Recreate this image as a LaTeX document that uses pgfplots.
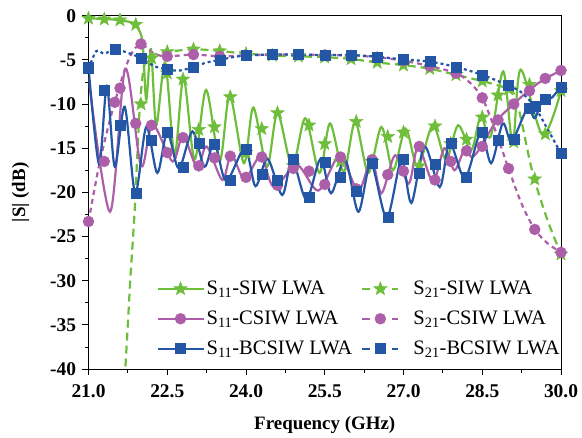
\documentclass[border=0pt]{standalone}
\usepackage{fontspec}
\setmainfont{Liberation Serif}
\usepackage{pgfplots}
\pgfplotsset{compat=1.18}
\usetikzlibrary{calc}
\definecolor{cg}{RGB}{110,190,60}
\definecolor{cp}{RGB}{172,95,168}
\definecolor{cb}{RGB}{36,86,166}
\pgfdeclareplotmark{fstar}{%
  \pgfpathmoveto{\pgfpointpolar{90}{1.3\pgfplotmarksize}}%
  \pgfpathlineto{\pgfpointpolar{126}{0.55\pgfplotmarksize}}%
  \pgfpathlineto{\pgfpointpolar{162}{1.3\pgfplotmarksize}}%
  \pgfpathlineto{\pgfpointpolar{198}{0.55\pgfplotmarksize}}%
  \pgfpathlineto{\pgfpointpolar{234}{1.3\pgfplotmarksize}}%
  \pgfpathlineto{\pgfpointpolar{270}{0.55\pgfplotmarksize}}%
  \pgfpathlineto{\pgfpointpolar{306}{1.3\pgfplotmarksize}}%
  \pgfpathlineto{\pgfpointpolar{342}{0.55\pgfplotmarksize}}%
  \pgfpathlineto{\pgfpointpolar{18}{1.3\pgfplotmarksize}}%
  \pgfpathlineto{\pgfpointpolar{54}{0.55\pgfplotmarksize}}%
  \pgfpathclose
  \pgfusepathqfillstroke
}
\pgfplotsset{
  longleg/.style={legend image code/.code={\draw[mark repeat=2,mark phase=2,##1] plot coordinates {(0bp,0bp) (23bp,0bp) (46bp,0bp)};}},
  shortleg/.style={legend image code/.code={\path (0bp,0bp) (48bp,0bp); \draw[mark repeat=2,mark phase=2,##1] plot coordinates {(0bp,0bp) (18bp,0bp) (36bp,0bp)};}},
}
\begin{document}
\fontsize{19}{22}\selectfont
\begin{tikzpicture}
\begin{axis}[
  scale only axis, width=472.5bp, height=353.3bp,
  xmin=21, xmax=30, ymin=-40, ymax=0,
  xtick={21,22.5,24,25.5,27,28.5,30},
  xticklabels={21.0,22.5,24.0,25.5,27.0,28.5,30.0},
  ytick={-40,-35,-30,-25,-20,-15,-10,-5,0},
  yticklabels={-40,-35,-30,-25,-20,-15,-10,-5,0},
  minor x tick num=1, minor y tick num=1,
  tick pos=left, tick align=outside,
  major tick length=6bp, minor tick length=3.5bp,
  tick style={black, line width=0.8bp},
  axis line style={line width=0.9bp},
  ticklabel style={font=\fontsize{19.5}{22}\selectfont\bfseries},
  xticklabel shift=3bp,
  label style={font=\fontsize{19}{22}\selectfont\bfseries},
  xlabel={Frequency (GHz)}, ylabel={|S| (dB)},
  xlabel shift=6bp, ylabel shift=8bp,
  legend columns=2,
  legend cell align=left,
  legend style={draw=none, fill=none, at={(rel axis cs:0.137,0.262)}, anchor=north west,
    font=\fontsize{20.6}{22}\selectfont, row sep=9.5bp,
    /tikz/every even column/.append style={column sep=7bp}},
  every axis plot/.append style={line width=2.2bp},
]
\coordinate (sw) at (rel axis cs:0,0);
\coordinate (ne) at (rel axis cs:1,1);
% ---------- green S11 (SIW) ----------
\addplot[cg, smooth, forget plot] coordinates {
(21.0,-0.3) (21.5,-0.45) (21.85,-0.8) (21.93,-1.3) (22.03,-3) (22.1,-9.5) (22.19,-3.8) (22.29,-12.4)
(22.46,-5.3) (22.64,-15.8) (22.81,-7.0) (23.02,-16.3) (23.24,-8.4) (23.5,-16.4) (23.69,-9.0)
(23.96,-16.7) (24.14,-10.4) (24.4,-17.1) (24.6,-11.0) (24.88,-17.1) (25.13,-11.6) (25.4,-17.8)
(25.6,-12.2) (25.86,-17.7) (26.08,-12.0) (26.33,-17.8) (26.58,-12.6) (26.8,-17.5) (27.04,-12.8)
(27.27,-17.1) (27.56,-12.4) (27.81,-16.3) (28.04,-12.4) (28.29,-15.2) (28.47,-11.4) (28.66,-13.7)
(28.9,-6.3) (29.08,-14.5) (29.23,-6.1) (29.65,-13.5) (30.0,-8.5)};
% ---------- green S21 ----------
\addplot[cg, smooth, dash pattern=on 8bp off 5bp, forget plot] coordinates {
(21.6,-50) (21.73,-37) (21.8,-29.5) (21.88,-22) (21.97,-11) (22.05,-6) (22.15,-4.7) (22.3,-4.3)
(22.5,-4.1) (23.0,-3.8) (23.5,-4.0) (24.0,-4.3) (24.5,-4.5) (25.0,-4.6) (25.5,-4.7) (26.0,-4.9)
(26.5,-5.3) (27.0,-5.6) (27.5,-6.0) (28.0,-6.7) (28.5,-7.4) (28.8,-7.9) (29.05,-8.4) (29.15,-9.5)
(29.25,-12) (29.46,-17.8) (29.74,-23.1) (30.0,-27)};
% ---------- pink S11 (CSIW) ----------
\addplot[cp, smooth, forget plot] coordinates {
(21.0,-7.0) (21.41,-22.2) (21.7,-6.0) (22.0,-17) (22.22,-12.3) (22.6,-16.5) (22.8,-13.6)
(23.07,-17.2) (23.25,-14.8) (23.55,-18.6) (23.72,-15.7) (23.97,-18.5) (24.28,-15.9) (24.53,-19.4)
(24.97,-16.9) (25.38,-19.8) (25.78,-15.9) (26.14,-19.8) (26.39,-16.2) (26.58,-20.1) (26.84,-15.8)
(27.1,-19.0) (27.28,-14.8) (27.56,-18.8) (27.78,-15.0) (27.97,-17.5) (28.16,-15.2) (28.3,-16.0)
(28.46,-15.0) (28.76,-12.0) (29.08,-10.1) (29.36,-8.6) (29.65,-7.3) (30.0,-6.2)};
% ---------- pink S21 ----------
\addplot[cp, smooth, dash pattern=on 5bp off 4bp, forget plot] coordinates {
(21.0,-23.3) (21.2,-17) (21.4,-12) (21.6,-7.8) (21.8,-4.5) (22.0,-3.2) (22.25,-4.3) (22.5,-4.6)
(23.0,-4.4) (23.5,-4.6) (24.0,-4.5) (24.5,-4.4) (25.0,-4.4) (25.5,-4.45) (26.0,-4.5) (26.5,-4.7)
(27.0,-5.1) (27.5,-5.7) (28.0,-6.5) (28.25,-7.5) (28.5,-9.3) (28.75,-13) (29.0,-17.3)
(29.25,-21.3) (29.5,-24.2) (29.75,-25.8) (30.0,-26.8)};
% ---------- blue S11 (BCSIW) ----------
\addplot[cb, smooth, forget plot] coordinates {
(21.0,-5.8) (21.2,-16.8) (21.35,-8.0) (21.5,-17.1) (21.69,-10.3) (21.89,-20.1) (22.1,-12.6)
(22.31,-17.8) (22.5,-13.2) (22.72,-17.3) (22.98,-13.1) (23.21,-17.1) (23.4,-14.3) (23.62,-18.7)
(23.98,-15.0) (24.18,-19.3) (24.41,-16.2) (24.69,-20.3) (24.88,-16.3) (25.15,-20.8) (25.42,-16.2)
(25.62,-20.1) (25.89,-16.3) (26.14,-22.2) (26.38,-16.7) (26.68,-22.9) (26.96,-16.3) (27.15,-21.2)
(27.4,-14.8) (27.69,-19.4) (27.88,-14.4) (28.17,-18.4) (28.47,-13.2) (28.67,-16.7) (28.89,-12.2)
(29.06,-14.2) (29.36,-10.5) (29.5,-11.6) (29.65,-9.5) (29.82,-9.3) (30.0,-8.0)};
% ---------- blue S21 ----------
\addplot[cb, smooth, dash pattern=on 3bp off 3bp, forget plot] coordinates {
(21.0,-6.0) (21.15,-4.0) (21.3,-4.3) (21.5,-3.8) (21.75,-4.2) (22.0,-4.8) (22.25,-5.7) (22.5,-6.1)
(22.75,-6.2) (23.0,-5.8) (23.25,-5.3) (23.5,-5.0) (23.75,-4.7) (24.0,-4.5) (24.5,-4.4) (25.0,-4.4)
(25.5,-4.45) (26.0,-4.45) (26.5,-4.65) (27.0,-4.95) (27.5,-5.2) (28.0,-5.8) (28.5,-6.7) (29.0,-7.9)
(29.25,-8.7) (29.5,-10.3) (29.75,-12.9) (30.0,-15.6)};
% ---------- markers ----------
\addplot[only marks, mark=fstar, mark size=5.5bp, mark options={fill=cg, draw=cg, line width=0.4bp}, forget plot] coordinates {
(21.0,-0.3) (21.3,-0.4) (21.6,-0.5) (21.9,-1.0) (22.2,-4.8) (22.5,-6.5) (22.8,-7.2) (23.1,-12.9)
(23.4,-12.6) (23.7,-9.2) (24.0,-15.5) (24.3,-12.8) (24.6,-11.0) (24.9,-17.0) (25.2,-12.4)
(25.5,-14.5) (25.8,-16.5) (26.1,-12.0) (26.4,-16.5) (26.7,-13.7) (27.0,-13.2) (27.3,-17.0)
(27.6,-12.5) (27.9,-14.5) (28.2,-14.0) (28.5,-11.5) (28.8,-9.0) (29.1,-14.3) (29.4,-7.8)
(29.7,-13.4) (30.0,-8.5)};
\addplot[only marks, mark=fstar, mark size=5.5bp, mark options={fill=cg, draw=cg, line width=0.4bp}, forget plot] coordinates {
(22.0,-10) (22.5,-4.1) (23.0,-3.8) (23.5,-4.0) (24.0,-4.3) (24.5,-4.5) (25.0,-4.6) (25.5,-4.7)
(26.0,-4.9) (26.5,-5.3) (27.0,-5.6) (27.5,-6.0) (28.0,-6.7) (28.5,-7.4) (29.0,-8.3) (29.5,-18.5) (30.0,-27)};
\addplot[only marks, mark=*, mark size=5.5bp, mark options={fill=cp, draw=cp, line width=0.4bp}, forget plot] coordinates {
(21.3,-16.5) (21.6,-8.2) (21.9,-12.2) (22.2,-12.4) (22.5,-15.5) (22.8,-13.8) (23.1,-17.0)
(23.4,-16.1) (23.7,-15.9) (24.0,-18.3) (24.3,-16.0) (24.6,-19.2) (24.9,-17.3) (25.2,-17.6)
(25.5,-19.1) (25.8,-16.0) (26.1,-19.6) (26.4,-16.3) (26.7,-18.0) (27.0,-17.6) (27.3,-14.8)
(27.6,-18.6) (27.9,-16.5) (28.2,-15.3) (28.5,-14.8) (28.8,-11.8) (29.1,-10.0) (29.4,-8.5)
(29.7,-7.1) (30.0,-6.2)};
\addplot[only marks, mark=*, mark size=5.5bp, mark options={fill=cp, draw=cp, line width=0.4bp}, forget plot] coordinates {
(21.0,-23.3) (21.5,-9.8) (22.0,-3.2) (22.5,-4.6) (23.0,-4.4) (23.5,-4.6) (24.0,-4.5) (24.5,-4.4)
(25.0,-4.4) (25.5,-4.45) (26.0,-4.5) (26.5,-4.7) (27.0,-5.1) (27.5,-5.7) (28.0,-6.5) (28.5,-9.3)
(29.0,-17.3) (29.5,-24.2) (30.0,-26.8)};
\addplot[only marks, mark=square*, mark size=5bp, mark options={fill=cb, draw=cb, line width=0.4bp}, forget plot] coordinates {
(21.0,-5.8) (21.3,-8.4) (21.6,-12.4) (21.9,-20.1) (22.2,-14.1) (22.5,-13.2) (22.8,-17.1)
(23.1,-14.4) (23.4,-14.6) (23.7,-18.6) (24.0,-15.1) (24.3,-18.0) (24.6,-18.6) (24.9,-16.3)
(25.2,-20.6) (25.5,-16.6) (25.8,-18.3) (26.1,-19.9) (26.4,-16.7) (26.7,-22.8) (27.0,-16.3)
(27.3,-17.8) (27.6,-16.8) (27.9,-14.4) (28.2,-18.3) (28.5,-13.2) (28.8,-14.1) (29.1,-14.0)
(29.4,-10.5) (29.7,-9.4) (30.0,-8.1)};
\addplot[only marks, mark=square*, mark size=5bp, mark options={fill=cb, draw=cb, line width=0.4bp}, forget plot] coordinates {
(21.0,-6.0) (21.5,-3.8) (22.0,-4.8) (22.5,-6.1) (23.0,-5.8) (23.5,-5.0) (24.0,-4.5) (24.5,-4.4)
(25.0,-4.4) (25.5,-4.45) (26.0,-4.45) (26.5,-4.65) (27.0,-4.95) (27.5,-5.2) (28.0,-5.8) (28.5,-6.7)
(29.0,-7.9) (29.5,-10.3) (30.0,-15.6)};
% ---------- legend ----------
\addlegendimage{cg, line width=2.2bp, mark=fstar, mark size=5.5bp, mark options={fill=cg, draw=cg, line width=0.4bp}, longleg}
\addlegendentry{S\textsubscript{11}-SIW LWA}
\addlegendimage{cg, line width=2.2bp, dash pattern=on 8bp off 7bp, mark=fstar, mark size=5.5bp, mark options={solid, fill=cg, draw=cg, line width=0.4bp}, shortleg}
\addlegendentry{S\textsubscript{21}-SIW LWA}
\addlegendimage{cp, line width=2.2bp, mark=*, mark size=5.5bp, mark options={fill=cp, draw=cp, line width=0.4bp}, longleg}
\addlegendentry{S\textsubscript{11}-CSIW LWA}
\addlegendimage{cp, line width=2.2bp, dash pattern=on 8bp off 7bp, mark=*, mark size=5.5bp, mark options={solid, fill=cp, draw=cp, line width=0.4bp}, shortleg}
\addlegendentry{S\textsubscript{21}-CSIW LWA}
\addlegendimage{cb, line width=2.2bp, mark=square*, mark size=5bp, mark options={fill=cb, draw=cb, line width=0.4bp}, longleg}
\addlegendentry{S\textsubscript{11}-BCSIW LWA}
\addlegendimage{cb, line width=2.2bp, dash pattern=on 8bp off 7bp, mark=square*, mark size=5bp, mark options={solid, fill=cb, draw=cb, line width=0.4bp}, shortleg}
\addlegendentry{S\textsubscript{21}-BCSIW LWA}
\end{axis}
\pgfresetboundingbox
\path ($(sw)+(-88.5bp,-68bp)$) rectangle ($(ne)+(21bp,15.7bp)$);
\end{tikzpicture}
\end{document}
